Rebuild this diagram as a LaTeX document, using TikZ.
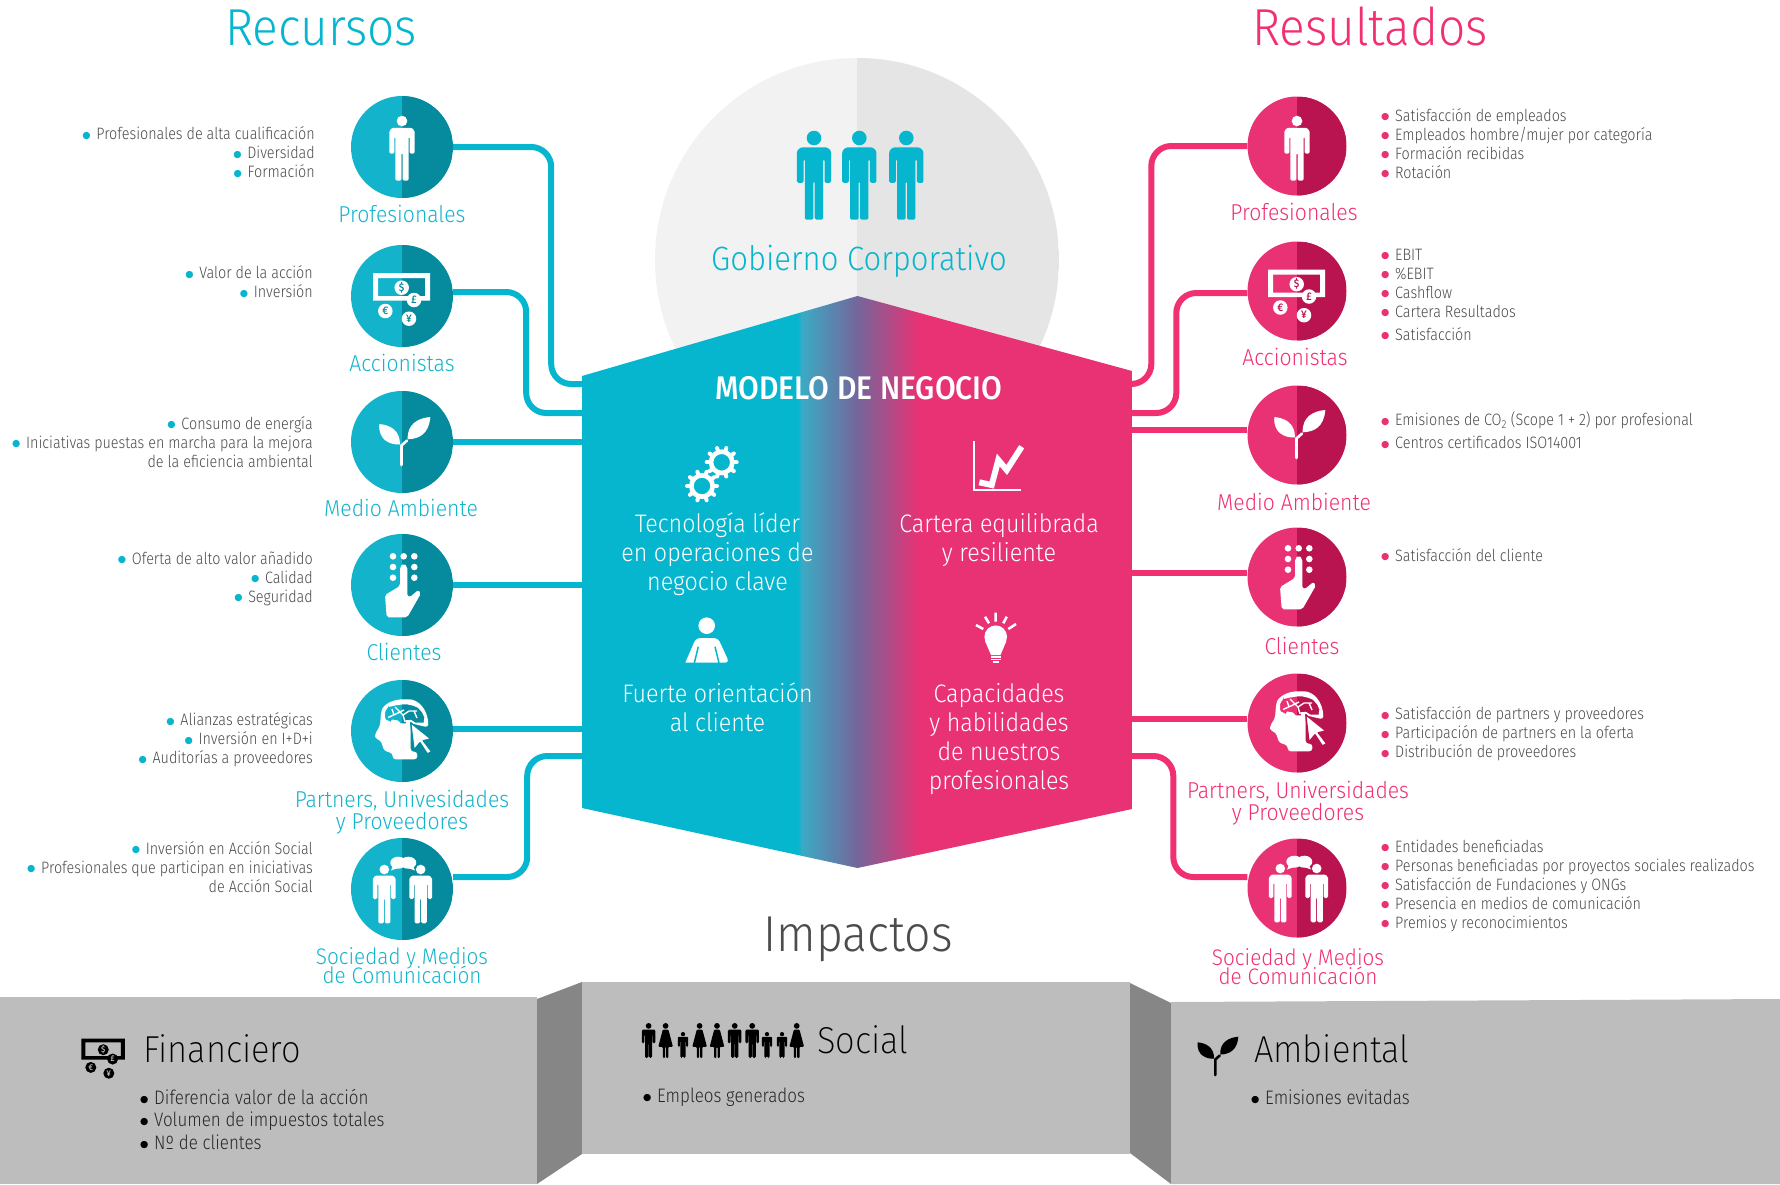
\documentclass[tikz,border=0pt]{standalone}
\usepackage{fontspec}
\usepackage{tikz}
\usepackage{xcolor}
\setmainfont{Fira Sans Light}
\newfontfamily\headfont{Fira Sans Light}[FakeStretch=0.92]
\newfontfamily\boldfont{Fira Sans Medium}[FakeStretch=0.92]
\newfontfamily\listfont{Fira Sans Light}[FakeStretch=0.87]
\newfontfamily\thinfont{Fira Sans ExtraLight}[FakeStretch=0.92]
\newfontfamily\bulfont{DejaVu Sans}
\definecolor{recc}{HTML}{06B6CE}
\definecolor{recl}{HTML}{13B4CB}
\definecolor{recd}{HTML}{058A9E}
\definecolor{resc}{HTML}{E93274}
\definecolor{resl}{HTML}{F0306F}
\definecolor{resd}{HTML}{B9144F}
\definecolor{midc}{HTML}{75659A}
\definecolor{midl}{HTML}{3CAAC4}
\definecolor{listgray}{HTML}{4A4A4A}
\definecolor{panelc}{HTML}{BDBDBD}
\definecolor{paneld}{HTML}{868686}
\pgfdeclarehorizontalshading{modelshade}{100bp}{color(0bp)=(recc); color(44.6bp)=(recc); color(45bp)=(midl); color(50.1bp)=(midc); color(55.7bp)=(resc); color(100bp)=(resc)}
\newcommand{\bulmark}[1]{\makebox[14pt][l]{\textcolor{#1}{\raisebox{1.6pt}{\bulfont\fontsize{9.5}{9.5}\selectfont ●}}}}
\newcommand{\lbul}{\bulmark{recc}}
\newcommand{\rbul}{\bulmark{resc}}
\newcommand{\pbul}{\bulmark{black}}
\tikzset{
    pics/manicon/.style={code={
        \fill[#1] (0,8.2) circle (8.2);
        \fill[#1, rounded corners=1.5pt] (-19.3,58.5) -- (-19.3,27) .. controls (-19.3,21) and (-15,18.7) .. (-11,18.7) -- (11,18.7) .. controls (15,18.7) and (19.3,21) .. (19.3,27) -- (19.3,58.5) -- (11.8,58.5) -- (11.8,32) -- (10.3,32) -- (10.3,100) -- (0.8,100) -- (0.8,57) -- (-0.8,57) -- (-0.8,100) -- (-10.3,100) -- (-10.3,32) -- (-11.8,32) -- (-11.8,58.5) -- cycle;
    }},
    pics/womanicon/.style={code={
        \fill[#1] (0,8.2) circle (8.2);
        \fill[#1, rounded corners=1pt] (-8,18.7) -- (8,18.7) -- (21,68) -- (8,68) -- (8,100) -- (1.5,100) -- (1.5,68) -- (-1.5,68) -- (-1.5,100) -- (-8,100) -- (-8,68) -- (-21,68) -- cycle;
    }},
    coin/.style={circle, fill=#1, inner sep=0pt, minimum size=14.5pt, transform shape, font=\boldfont\fontsize{11}{11}\selectfont},
    pics/moneyicon/.style 2 args={code={
        \fill[#1, even odd rule] (-29,-23) rectangle (28,4.7) (-24,-18) rectangle (23,0);
        \node[coin=#1, text=#2] (coind) at (-0.3,-8.3) {\$};
        \node[coin=#1, text=#2] (coinp) at (12,4) {£};
        \node[coin=#1, text=#2] (coine) at (-16.7,15) {€};
        \node[coin=#1, text=#2] (coiny) at (7,22.7) {¥};
    }},
    pics/planticon/.style={code={
        \fill[#1] (-22.7,-18) .. controls (-12,-17) and (-2,-12) .. (-2,2.5) .. controls (-12,3) and (-24,-2) .. cycle;
        \fill[#1] (28.3,-25) .. controls (16,-24) and (5,-18) .. (5.7,-2.7) .. controls (17,-3) and (27,-8) .. cycle;
        \draw[#1, line width=2.6pt, line cap=round] (-0.5,23) -- (-0.5,3.5) -- (5,-1.5);
    }},
    pics/handicon/.style={code={
        \fill[#1, rounded corners=2pt] (-2,-18.3) -- (-2,1) -- (-17,10) -- (-15.3,32.3) -- (5.3,32.3) -- (19,8.3) -- (16.3,5) -- (8,12) -- (5.3,11.7) -- (5.3,-18.3) -- (1.7,-21.7) -- cycle;
        \fill[#1] (-9,-28.7) circle (3.3) (1.7,-28.7) circle (3.3) (12.3,-28.7) circle (3.3) (-9,-18) circle (3.3) (12.3,-18) circle (3.3) (-9,-7.3) circle (3.3) (12.3,-7.3) circle (3.3);
    }},
    pics/headicon/.style={code={
        \fill[white, even odd rule, rounded corners=3pt] (-27,3) -- (-22,-5) -- (-21,-17.7) .. controls (-19,-26) and (-10,-31.7) .. (4,-31.7) .. controls (16,-31.7) and (26,-22) .. (26.3,-3.7) -- (8.7,-7.7) -- (8.7,20.7) -- (15.3,20.7) -- (15.3,28.3) -- (-9.3,28.3) -- (-9.3,22.3) -- (-18,19.7) -- (-21,9.7) -- (-27,7.3) -- cycle
            plot[smooth cycle, tension=0.6] coordinates {(-17,-16) (-13.7,-22.7) (-3.7,-26) (8,-26) (18,-21) (22,-11) (16.3,-8.3) (6.3,-11) (1.3,-7.7) (-7,-11) (-13.7,-10.3)};
        \draw[white, line width=1.4pt] (-14,-13.5) -- (-4,-18) -- (2,-21) (-7,-24) -- (1,-16) -- (7,-20) (1,-16) -- (3,-9) (7,-20) -- (15,-20) (-10,-22) -- (-8,-16) (12,-20) -- (15,-13);
        \fill[white, draw=#1, line width=1.4pt, line join=round] (8.7,-8.3) -- (29,8) -- (21.3,9.7) -- (29.7,20.7) -- (25.3,23) -- (18,11.7) -- (12,19) -- cycle;
    }},
    pics/talkicon/.style={code={
        \pic[scale=0.587] at (-17.7,-24.3) {manicon=white};
        \pic[scale=0.587] at (18.7,-24.3) {manicon=white};
        \fill[white] (-3.7,-26.3) ellipse (8 and 6) (6.3,-26.3) ellipse (8 and 6);
        \fill[white] (-9,-23) -- (-11,-18.5) -- (-4,-21) -- cycle (11,-23) -- (13,-18.5) -- (6,-21) -- cycle;
    }},
    pics/gearicon/.style={code={
        \fill[white, even odd rule] (0,0) circle (13) (0,0) circle (8.3);
        \foreach \a in {0,36,...,324} \draw[white, line width=4pt, line cap=round] (\a:12) -- (\a:15);
    }},
    rescirc/.style={circle, inner sep=0pt, minimum size=102pt, fill=recl, path picture={\fill[recd] (path picture bounding box.north) rectangle (path picture bounding box.south east);}},
    sumcirc/.style={circle, inner sep=0pt, minimum size=99pt, fill=resc, path picture={\fill[resd] (path picture bounding box.north) rectangle (path picture bounding box.south east);}},
    govcirc/.style={circle, inner sep=0pt, minimum size=404pt, fill=black!5, path picture={\fill[black!10] (path picture bounding box.north) rectangle (path picture bounding box.south east);}},
    reslabel/.style={text=recl, align=center, inner sep=0pt, font=\headfont\fontsize{23}{21.5}\selectfont},
    sumlabel/.style={text=resl, align=center, inner sep=0pt, font=\headfont\fontsize{23}{21.5}\selectfont},
    tightlabel/.style={font=\headfont\fontsize{22.5}{18.5}\selectfont},
    reslist/.style={anchor=east, align=right, inner sep=0pt, text=listgray, font=\listfont\fontsize{16.5}{19}\selectfont},
    sumlist/.style={anchor=west, align=left, inner sep=0pt, text=listgray, font=\listfont\fontsize{16.5}{19}\selectfont},
    panellist/.style={anchor=west, align=left, inner sep=0pt, text=black!85, font=\listfont\fontsize{19.5}{22.5}\selectfont},
    paneltitle/.style={anchor=west, inner sep=0pt, text=black, font=\thinfont\fontsize{37.5}{40}\selectfont},
    modeltext/.style={text=white, align=center, inner sep=0pt, font=\headfont\fontsize{25.3}{29}\selectfont},
    title/.style={inner sep=0pt, font=\headfont\fontsize{52}{52}\selectfont},
    resline/.style={draw=recc, line width=6pt, rounded corners=20pt},
    sumline/.style={draw=resl, line width=6pt, rounded corners=20pt},
}
\begin{document}
\begin{tikzpicture}[x=1pt, y=-1pt]
    \useasboundingbox (0,0) rectangle (1780,1184);

    % governance circle and the model block
    \node[govcirc] (gobierno) at (857,260) {};
    \shade[shading=modelshade] (582,376) -- (857.5,296) -- (1132,371) -- (1132,809) -- (857.5,868) -- (582,808) -- cycle;

    % impact panels
    \fill[panelc] (0,997) -- (537,997) -- (537,1184) -- (0,1184) -- cycle;
    \fill[paneld] (537,999) -- (582,982) -- (582,1154) -- (537,1184) -- cycle;
    \fill[panelc] (582,982) rectangle (1130,1154);
    \fill[paneld] (1130,983) -- (1171,1003) -- (1171,1184) -- (1130,1153) -- cycle;
    \fill[panelc] (1171,1002) -- (1780,999) -- (1780,1184) -- (1171,1184) -- cycle;

    \node[title, text=recc] (recursos) at (321,28) {Recursos};
    \node[title, text=resl] (resultados) at (1370,26) {Resultados};
    \node[title, text=black!70, font=\headfont\fontsize{50.5}{52}\selectfont] (impactos) at (858,939) {Impactos};
    \node[inner sep=0pt, text=recc, font=\headfont\fontsize{33.7}{34}\selectfont] (gobtext) at (859,261) {Gobierno Corporativo};
    \node[inner sep=0pt, text=white, font=\boldfont\fontsize{32.7}{33}\selectfont] (modelo) at (859,388) {MODELO DE NEGOCIO};

    \pic at (814,130.7) [scale=0.89] {manicon=recc};
    \pic at (859.3,130.7) [scale=0.89] {manicon=recc};
    \pic at (906.3,130.7) [scale=0.89] {manicon=recc};

    % left column
    \node[rescirc] (rprof) at (402,147) {};
    \node[rescirc] (racc) at (402,296) {};
    \node[rescirc] (rma) at (402,442) {};
    \node[rescirc] (rcli) at (402,585) {};
    \node[rescirc] (rpart) at (402,731) {};
    \node[rescirc] (rsoc) at (402,889) {};

    \node[reslabel] (rproflab) [below of=rprof, node distance=67pt] {Profesionales};
    \node[reslabel] (racclab) [below of=racc, node distance=67pt] {Accionistas};
    \node[reslabel] (rmalab) [below of=rma, node distance=66pt, xshift=-1pt] {Medio Ambiente};
    \node[reslabel] (rclilab) [below of=rcli, node distance=67pt, xshift=2pt] {Clientes};
    \node[reslabel] (rpartlab) [below of=rpart, node distance=81pt] {Partners, Univesidades\\y Proveedores};
    \node[reslabel, tightlabel] (rsoclab) [below of=rsoc, node distance=77pt] {Sociedad y Medios\\[-4pt]de Comunicación};

    \pic at (402,115.7) [scale=0.65] {manicon=white};
    \pic at (402,296) {moneyicon={white}{recd}};
    \pic at (402,442) {planticon=white};
    \pic at (402,585) {handicon=white};
    \pic at (402,731) {headicon=recd};
    \pic at (402,889) {talkicon};

    \node[reslist] (rproflist) at (315,152.5) {\lbul Profesionales de alta cualificación\\\lbul Diversidad\\\lbul Formación};
    \node[reslist] (racclist) at (313,282) {\lbul Valor de la acción\\\lbul Inversión};
    \node[reslist] (rmalist) at (313,442) {\lbul Consumo de energía\\\lbul Iniciativas puestas en marcha para la mejora\\de la eficiencia ambiental};
    \node[reslist] (rclilist) at (313,579) {\lbul Oferta de alto valor añadido\\\lbul Calidad\\\lbul Seguridad};
    \node[reslist] (rpartlist) at (313,740) {\lbul Alianzas estratégicas\\\lbul Inversión en I+D+i\\\lbul Auditorías a proveedores};
    \node[reslist] (rsoclist) at (313,867) {\lbul Inversión en Acción Social\\\lbul Profesionales que participan en iniciativas\\de Acción Social};

    \coordinate (mrprof) at (582,384);
    \coordinate (mracc) at (582,413);
    \coordinate (mrma) at (582,442);
    \coordinate (mrcli) at (582,585);
    \coordinate (mrpart) at (582,729);
    \coordinate (mrsoc) at (582,756);

    \draw[resline] (rprof.east) -- ++(98,0) |- (mrprof);
    \draw[resline] ([yshift=4pt]racc.east) -- ++(73,0) |- (mracc);
    \draw[resline] (rma.east) -- (mrma);
    \draw[resline] (rcli.east) -- (mrcli);
    \draw[resline] ([yshift=2pt]rpart.east) -- (mrpart);
    \draw[resline] ([yshift=12pt]rsoc.east) -- ++(74,0) |- (mrsoc);

    % right column
    \node[sumcirc] (sprof) at (1297,146) {};
    \node[sumcirc] (sacc) at (1297,291) {};
    \node[sumcirc] (sma) at (1297,435) {};
    \node[sumcirc] (scli) at (1297,577) {};
    \node[sumcirc] (spart) at (1297,723) {};
    \node[sumcirc] (ssoc) at (1297,888) {};

    \node[sumlabel] (sproflab) [below of=sprof, node distance=66pt, xshift=-3pt] {Profesionales};
    \node[sumlabel] (sacclab) [below of=sacc, node distance=66pt, xshift=-2pt] {Accionistas};
    \node[sumlabel] (smalab) [below of=sma, node distance=67pt, xshift=-3pt] {Medio Ambiente};
    \node[sumlabel] (sclilab) [below of=scli, node distance=69pt, xshift=5pt] {Clientes};
    \node[sumlabel] (spartlab) [below of=spart, node distance=80pt, xshift=1pt] {Partners, Universidades\\y Proveedores};
    \node[sumlabel, tightlabel] (ssoclab) [below of=ssoc, node distance=79pt, xshift=1pt] {Sociedad y Medios\\[-4pt]de Comunicación};

    \pic at (1297,115.7) [scale=0.65] {manicon=white};
    \pic at (1297,292.5) {moneyicon={white}{resd}};
    \pic at (1297,435) {planticon=white};
    \pic at (1297,577) {handicon=white};
    \pic at (1297,723) {headicon=resd};
    \pic at (1298,888) {talkicon};

    \node[sumlist] (sproflist) at (1381,143.5) {\rbul Satisfacción de empleados\\\rbul Empleados hombre/mujer por categoría\\\rbul Formación recibidas\\\rbul Rotación};
    \node[sumlist] (sacclist) at (1381,295) {\rbul EBIT\\\rbul \%EBIT\\\rbul Cashflow\\\rbul Cartera Resultados\\[4pt]\rbul Satisfacción};
    \node[sumlist] (smalist) at (1381,430.5) {\rbul Emisiones de CO\textsubscript{2} (Scope 1 + 2) por profesional\\[4pt]\rbul Centros certificados ISO14001};
    \node[sumlist] (sclilist) at (1381,555) {\rbul Satisfacción del cliente};
    \node[sumlist] (spartlist) at (1381,734) {\rbul Satisfacción de partners y proveedores\\\rbul Participación de partners en la oferta\\\rbul Distribución de proveedores};
    \node[sumlist] (ssoclist) at (1381,885.5) {\rbul Entidades beneficiadas\\\rbul Personas beneficiadas por proyectos sociales realizados\\\rbul Satisfacción de Fundaciones y ONGs\\\rbul Presencia en medios de comunicación\\\rbul Premios y reconocimientos};

    \coordinate (msprof) at (1132,384);
    \coordinate (msacc) at (1132,413);
    \coordinate (msma) at (1132,430);
    \coordinate (mscli) at (1132,573);
    \coordinate (mspart) at (1132,719);
    \coordinate (mssoc) at (1132,756);

    \draw[sumline] (sprof.west) -- ++(-96,0) |- (msprof);
    \draw[sumline] ([yshift=-2pt]sacc.west) -- ++(-71,0) |- (msacc);
    \draw[sumline] ([yshift=5pt]sma.west) -- (msma);
    \draw[sumline] ([yshift=4pt]scli.west) -- (mscli);
    \draw[sumline] ([yshift=4pt]spart.west) -- (mspart);
    \draw[sumline] ([yshift=11pt]ssoc.west) -- ++(-74,0) |- (mssoc);

    % model block contents
    \pic at (721.7,462.3) {gearicon};
    \pic at (702,486) {gearicon};
    \node[modeltext] (tecno) at (717.5,554) {Tecnología líder\\en operaciones de\\negocio clave};
    \draw[white, line width=2pt] (974,441) -- (974,490) -- (1021,490);
    \draw[white, line width=6pt] (979.3,482.3) -- (991.7,485) -- (998.3,460) -- (1006.7,470) -- (1021.7,446.7);
    \node[modeltext] (cartera) at (999,540) {Cartera equilibrada\\y resiliente};
    \fill[white] (706.7,625.7) circle (8.3);
    \fill[white, rounded corners=4pt] (685.3,662.7) -- (696,638) -- (718,638) -- (729.3,662.7) [sharp corners] -- cycle;
    \draw[recc, line width=1.5pt] (698.3,646.7) -- (694.3,663) (715,646.7) -- (719,663);
    \node[modeltext] (fuerte) at (717.5,707.5) {Fuerte orientación\\al cliente};
    \fill[white] (995.7,636.7) circle (11.3);
    \fill[white] (985,641) -- (1006.4,641) -- (1000.5,655) -- (991,655) -- cycle;
    \draw[white, line width=1.2pt] (991,657) -- (1000.5,657) (991,659.5) -- (1000.5,659.5) (992.5,662) -- (999,662);
    \draw[white, line width=2.5pt] (995.7,612.7) -- (995.7,621.7) (985,616.7) -- (989,623.3) (1006.7,616.7) -- (1003.3,623.3) (976,625) -- (983.3,629) (1016,624) -- (1008.3,629);
    \node[modeltext] (capac) at (999,739) {Capacidades\\y habilidades\\de nuestros\\profesionales};

    % panel contents
    \pic at (103.5,1056) [scale=0.76] {moneyicon={black}{panelc}};
    \node[paneltitle] (financiero) at (143,1049) {Financiero};
    \node[panellist] (finlist) at (140,1119) {\pbul Diferencia valor de la acción\\\pbul Volumen de impuestos totales\\\pbul Nº de clientes};

    \pic at (648.6,1023) [scale=0.35] {manicon=black};
    \pic at (665.6,1023) [scale=0.35] {womanicon=black};
    \pic at (683,1032) [scale=0.26] {manicon=black};
    \pic at (699.6,1023) [scale=0.35] {womanicon=black};
    \pic at (717,1023) [scale=0.35] {womanicon=black};
    \pic at (734.7,1023) [scale=0.35] {manicon=black};
    \pic at (752.2,1023) [scale=0.35] {manicon=black};
    \pic at (767,1032) [scale=0.26] {manicon=black};
    \pic at (782,1032) [scale=0.26] {manicon=black};
    \pic at (796.7,1023) [scale=0.35] {womanicon=black};
    \node[paneltitle] (social) at (817,1040) {Social};
    \node[panellist] (soclist) at (643,1097) {\pbul Empleos generados};

    \pic at (1215.7,1056.7) [scale=0.8] {planticon=black};
    \node[paneltitle] (ambiental) at (1254,1049) {Ambiental};
    \node[panellist] (amblist) at (1251,1097) {\pbul Emisiones evitadas};
\end{tikzpicture}
\end{document}
